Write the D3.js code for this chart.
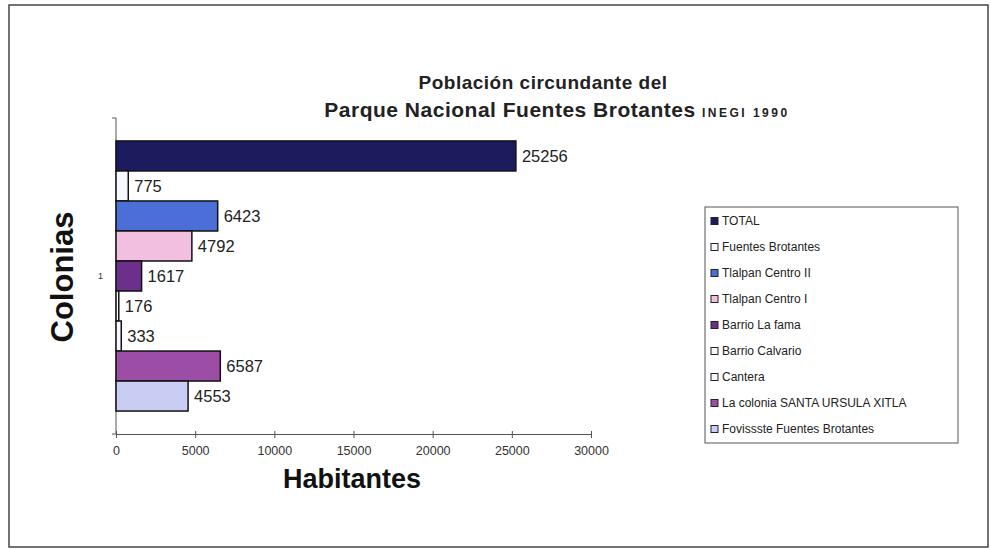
<!DOCTYPE html>
<html>
<head>
<meta charset="utf-8">
<script src="https://cdn.jsdelivr.net/npm/d3@7"></script>
<style>
  body { margin: 0; background: #fff; }
  svg { display: block; font-family: "Liberation Sans", Arial, sans-serif; }
</style>
</head>
<body>
<div id="chart"></div>
<script>
// Población circundante del Parque Nacional Fuentes Brotantes (INEGI 1990)

const categories = ['1'];
const seriesNames = [
    'TOTAL',
    'Fuentes Brotantes',
    'Tlalpan Centro II',
    'Tlalpan Centro I',
    'Barrio La fama',
    'Barrio Calvario',
    'Cantera',
    'La colonia SANTA URSULA XITLA',
    'Fovissste Fuentes Brotantes'
];
const habitantes = [25256, 775, 6423, 4792, 1617, 176, 333, 6587, 4553];
const xTicks = [0, 5000, 10000, 15000, 20000, 25000, 30000];

const palette = ['#1c1b5e', '#f7f7ff', '#4b6fd6', '#f3bfe0', '#6c2f8c',
                 '#f7f7ff', '#f7f7ff', '#9c4ea6', '#c9cdf3'];

const W = 991, H = 549;
const plot = { left: 116, right: 591, top: 118, bottom: 434 };

const svg = d3.select('#chart').append('svg')
    .attr('width', W)
    .attr('height', H);

// Outer frame
svg.append('rect')
    .attr('x', 9).attr('y', 5)
    .attr('width', 979).attr('height', 542)
    .attr('fill', '#fff')
    .attr('stroke', '#444')
    .attr('stroke-width', 1.5);

// Title
svg.append('text')
    .attr('x', 543).attr('y', 89)
    .attr('text-anchor', 'middle')
    .style('font-weight', 'bold')
    .style('font-size', '19px')
    .style('letter-spacing', '0.5px')
    .style('fill', '#222')
    .text('Población circundante del');

const line2 = svg.append('text')
    .attr('x', 557).attr('y', 117)
    .attr('text-anchor', 'middle')
    .style('font-weight', 'bold')
    .style('fill', '#222');
line2.append('tspan')
    .style('font-size', '21px')
    .style('letter-spacing', '0.5px')
    .text('Parque Nacional Fuentes Brotantes ');
line2.append('tspan')
    .style('font-size', '12px')
    .style('letter-spacing', '2.5px')
    .text('INEGI 1990');

// Scales
const xScale = d3.scaleLinear()
    .domain([0, 30000])
    .range([plot.left, plot.right]);

const yGroup = d3.scaleBand()
    .domain(categories)
    .range([plot.top, plot.bottom])
    .paddingInner(0)
    .paddingOuter(0.085);

const ySeries = d3.scaleBand()
    .domain(seriesNames)
    .range([0, yGroup.bandwidth()])
    .padding(0);

// Axes
const xAxis = d3.axisBottom(xScale)
    .tickValues(xTicks)
    .tickFormat(d3.format('d'))
    .tickSizeInner(4)
    .tickSizeOuter(0);

const xAxisGroup = svg.append('g')
    .attr('transform', `translate(0,${plot.bottom})`)
    .call(xAxis);
xAxisGroup.select('.domain').attr('stroke', '#555');
xAxisGroup.selectAll('.tick line').attr('stroke', '#555').attr('y1', -3);
xAxisGroup.selectAll('.tick text')
    .attr('dy', '1.1em')
    .style('font-size', '12.5px')
    .style('fill', '#333');

const yAxis = d3.axisLeft(yGroup)
    .tickSize(0)
    .tickPadding(13);
const yAxisGroup = svg.append('g')
    .attr('transform', `translate(${plot.left},0)`)
    .call(yAxis);
yAxisGroup.select('.domain')
    .attr('stroke', '#555')
    .attr('d', `M-4,${plot.top}H0V${plot.bottom}H-4`);
yAxisGroup.selectAll('.tick text')
    .style('font-size', '9px')
    .style('fill', '#333');

// Bars
const rows = seriesNames.map((name, i) => ({ name, value: habitantes[i], color: palette[i], cat: categories[0] }));

const group = svg.append('g');
group.selectAll('rect.bar')
    .data(rows)
    .join('rect')
    .attr('class', 'bar')
    .attr('x', xScale(0))
    .attr('y', d => yGroup(d.cat) + ySeries(d.name))
    .attr('width', d => xScale(d.value) - xScale(0))
    .attr('height', ySeries.bandwidth())
    .attr('fill', d => d.color)
    .attr('stroke', '#111')
    .attr('stroke-width', 1.5);

group.selectAll('text.bar-label')
    .data(rows)
    .join('text')
    .attr('class', 'bar-label')
    .attr('x', d => xScale(d.value) + 6)
    .attr('y', d => yGroup(d.cat) + ySeries(d.name) + ySeries.bandwidth() / 2)
    .attr('dy', '0.36em')
    .style('font-size', '16.5px')
    .style('fill', '#222')
    .text(d => d.value);

// Axis titles
svg.append('text')
    .attr('x', 352).attr('y', 488)
    .attr('text-anchor', 'middle')
    .style('font-weight', 'bold')
    .style('font-size', '27px')
    .style('fill', '#111')
    .text('Habitantes');

svg.append('text')
    .attr('transform', 'translate(73,277) rotate(-90)')
    .attr('text-anchor', 'middle')
    .style('font-weight', 'bold')
    .style('font-size', '31px')
    .style('fill', '#111')
    .text('Colonias');

// Legend
const legend = svg.append('g').attr('transform', 'translate(705,207)');
legend.append('rect')
    .attr('width', 253).attr('height', 236)
    .attr('fill', '#fff')
    .attr('stroke', '#555')
    .attr('stroke-width', 1);

const legendY = d3.scalePoint()
    .domain(seriesNames)
    .range([14, 222]);

const items = legend.selectAll('g.item')
    .data(rows)
    .join('g')
    .attr('class', 'item')
    .attr('transform', d => `translate(0,${legendY(d.name)})`);

items.append('rect')
    .attr('x', 6).attr('y', -3.5)
    .attr('width', 7).attr('height', 7)
    .attr('fill', d => d.color)
    .attr('stroke', '#222')
    .attr('stroke-width', 1);

items.append('text')
    .attr('x', 17)
    .attr('dy', '0.35em')
    .style('font-size', '12px')
    .style('fill', '#222')
    .text(d => d.name);
</script>
</body>
</html>
